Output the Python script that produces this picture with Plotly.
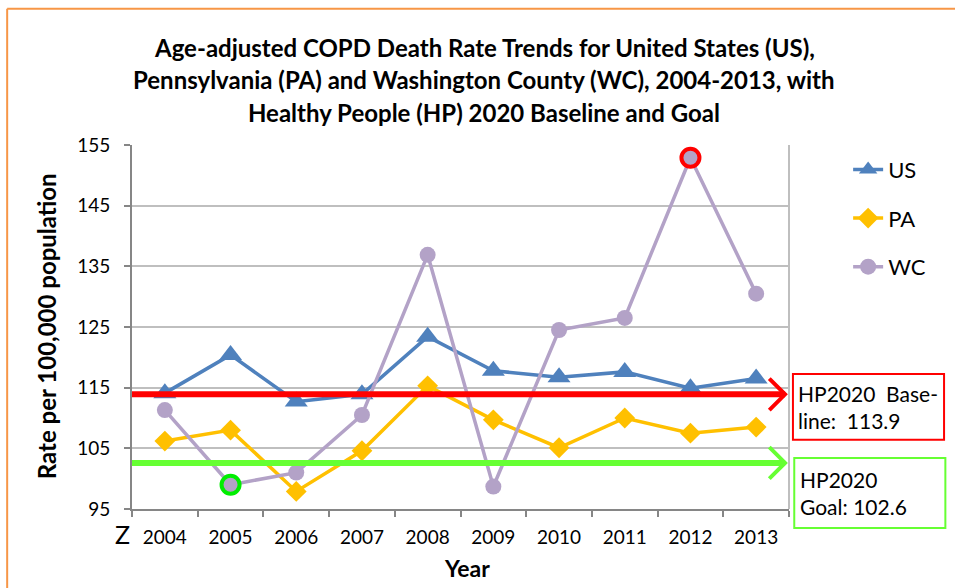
import plotly.graph_objects as go

# Age-adjusted COPD death rates per 100,000 population
years = ["2004", "2005", "2006", "2007", "2008", "2009", "2010", "2011", "2012", "2013"]
us_rates = [114.1, 120.4, 112.7, 113.9, 123.4, 117.8, 116.7, 117.6, 114.9, 116.5]
pa_rates = [106.2, 108.0, 97.9, 104.6, 115.3, 109.7, 105.1, 110.0, 107.5, 108.5]
wc_rates = [111.3, 99.0, 101.0, 110.5, 136.9, 98.7, 124.5, 126.5, 152.9, 130.5]

# Healthy People 2020 targets
hp_baseline = 113.9
hp_goal = 102.6

# Flagged Washington County points: highest rate and the 2005 low
flag_high_year = "2012"
flag_low_year = "2005"

FONT = "Lato"
RED = "#ff0000"
GREEN = "#66ff33"

fig = go.Figure()

fig.add_trace(go.Scatter(
    x=years, y=us_rates, name="US", mode="lines+markers",
    line=dict(color="#4f81bd", width=3.5),
    marker=dict(symbol="triangle-up", size=20, color="#4f81bd"),
    legendgroup="us",
))
fig.add_trace(go.Scatter(
    x=years, y=pa_rates, name="PA", mode="lines+markers",
    line=dict(color="#ffc000", width=3.5),
    marker=dict(symbol="diamond", size=16, color="#ffc000"),
    legendgroup="pa",
))
fig.add_trace(go.Scatter(
    x=years, y=wc_rates, name="WC", mode="lines+markers",
    line=dict(color="#b3a2c7", width=3.5),
    marker=dict(symbol="circle", size=16, color="#b3a2c7"),
    legendgroup="wc",
))

# Rings around the flagged WC values
hi = years.index(flag_high_year)
lo = years.index(flag_low_year)
fig.add_trace(go.Scatter(
    x=[years[hi]], y=[wc_rates[hi]], mode="markers", showlegend=False,
    marker=dict(symbol="circle-open", size=18, line=dict(color=RED, width=4), color=RED),
    hoverinfo="skip",
))
fig.add_trace(go.Scatter(
    x=[years[lo]], y=[wc_rates[lo]], mode="markers", showlegend=False,
    marker=dict(symbol="circle-open", size=18, line=dict(color="#00ee00", width=4), color="#00ee00"),
    hoverinfo="skip",
))

shapes = []

# HP2020 reference arrows across the plot
for val, col in [(hp_baseline, RED), (hp_goal, GREEN)]:
    shapes.append(dict(type="line", xref="paper", yref="y", x0=0, x1=0.994,
                       y0=val, y1=val, line=dict(color=col, width=6), layer="above"))
    shapes.append(dict(type="path", xref="paper", yref="y",
                       path=f"M 0.970,{val + 2.6} L 0.994,{val} L 0.970,{val - 2.6}",
                       line=dict(color=col, width=4), layer="above"))

# Right border of the plot area
shapes.append(dict(type="line", xref="paper", yref="paper", x0=1, x1=1, y0=0, y1=1,
                   line=dict(color="#bfbfbf", width=2)))

# Text boxes for baseline and goal
shapes.append(dict(type="rect", xref="paper", yref="paper", x0=1.006, x1=1.236,
                   y0=0.190, y1=0.371, line=dict(color=RED, width=2)))
shapes.append(dict(type="rect", xref="paper", yref="paper", x0=1.008, x1=1.238,
                   y0=-0.052, y1=0.140, line=dict(color=GREEN, width=2)))

# Outer orange frame
shapes.append(dict(type="line", xref="paper", yref="paper", x0=-0.190, x1=-0.190,
                   y0=1.374, y1=-0.3, line=dict(color="#f79646", width=2)))
shapes.append(dict(type="line", xref="paper", yref="paper", x0=-0.190, x1=1.4,
                   y0=1.374, y1=1.374, line=dict(color="#f79646", width=2)))

title_lines = [
    "Age-adjusted COPD Death Rate Trends for United States (US),",
    "Pennsylvania (PA) and Washington County (WC), 2004-2013, with",
    "Healthy People (HP) 2020 Baseline and Goal",
]
title_y = [1.269, 1.179, 1.088]

annotations = []
for txt, yy in zip(title_lines, title_y):
    annotations.append(dict(text=f"<b>{txt}</b>", xref="paper", yref="paper", x=0.536, y=yy,
                            xanchor="center", yanchor="middle", showarrow=False,
                            font=dict(family=FONT, size=24, color="#000000")))

annotations += [
    dict(text="<b>Rate per 100,000 population</b>", xref="paper", yref="paper",
         x=-0.129, y=0.503, textangle=-90, xanchor="center", yanchor="middle",
         showarrow=False, font=dict(family=FONT, size=24, color="#000000")),
    dict(text="<b>Year</b>", xref="paper", yref="paper", x=0.510, y=-0.162,
         xanchor="center", yanchor="middle", showarrow=False,
         font=dict(family=FONT, size=23, color="#000000")),
    dict(text="Z", xref="paper", yref="paper", x=-0.015, y=-0.068,
         xanchor="center", yanchor="middle", showarrow=False,
         font=dict(family=FONT, size=25, color="#000000")),
    dict(text=f"HP2020  Base-<br>line:  {hp_baseline}", xref="paper", yref="paper",
         x=1.011, y=0.281, xanchor="left", yanchor="middle", align="left", showarrow=False,
         font=dict(family=FONT, size=21, color="#000000")),
    dict(text=f"HP2020<br>Goal: {hp_goal}", xref="paper", yref="paper",
         x=1.013, y=0.044, xanchor="left", yanchor="middle", align="left", showarrow=False,
         font=dict(family=FONT, size=21, color="#000000")),
]

fig.update_layout(
    width=955, height=588,
    margin=dict(l=132, r=166, t=145, b=79),
    paper_bgcolor="white", plot_bgcolor="white",
    shapes=shapes, annotations=annotations,
    legend=dict(x=1.09, y=0.99, xanchor="left", yanchor="top",
                font=dict(family=FONT, size=22, color="#000000"),
                tracegroupgap=17, bgcolor="rgba(0,0,0,0)"),
    xaxis=dict(type="category", range=[-0.5, 9.5], tickson="boundaries",
               ticks="outside", ticklen=6, tickcolor="#868686", tickwidth=2,
               showline=True, linecolor="#868686", linewidth=2, showgrid=False,
               ticklabelstandoff=10,
               tickfont=dict(family=FONT, size=19, color="#000000")),
    yaxis=dict(range=[95, 155], dtick=10, tick0=95, ticks="outside", ticklen=6,
               tickcolor="#868686", tickwidth=2, showline=True, linecolor="#868686",
               linewidth=2, gridcolor="#bfbfbf", gridwidth=2, zeroline=False,
               ticklabelstandoff=10,
               tickfont=dict(family=FONT, size=19, color="#000000")),
    showlegend=True,
)

fig.write_html("out.html")
